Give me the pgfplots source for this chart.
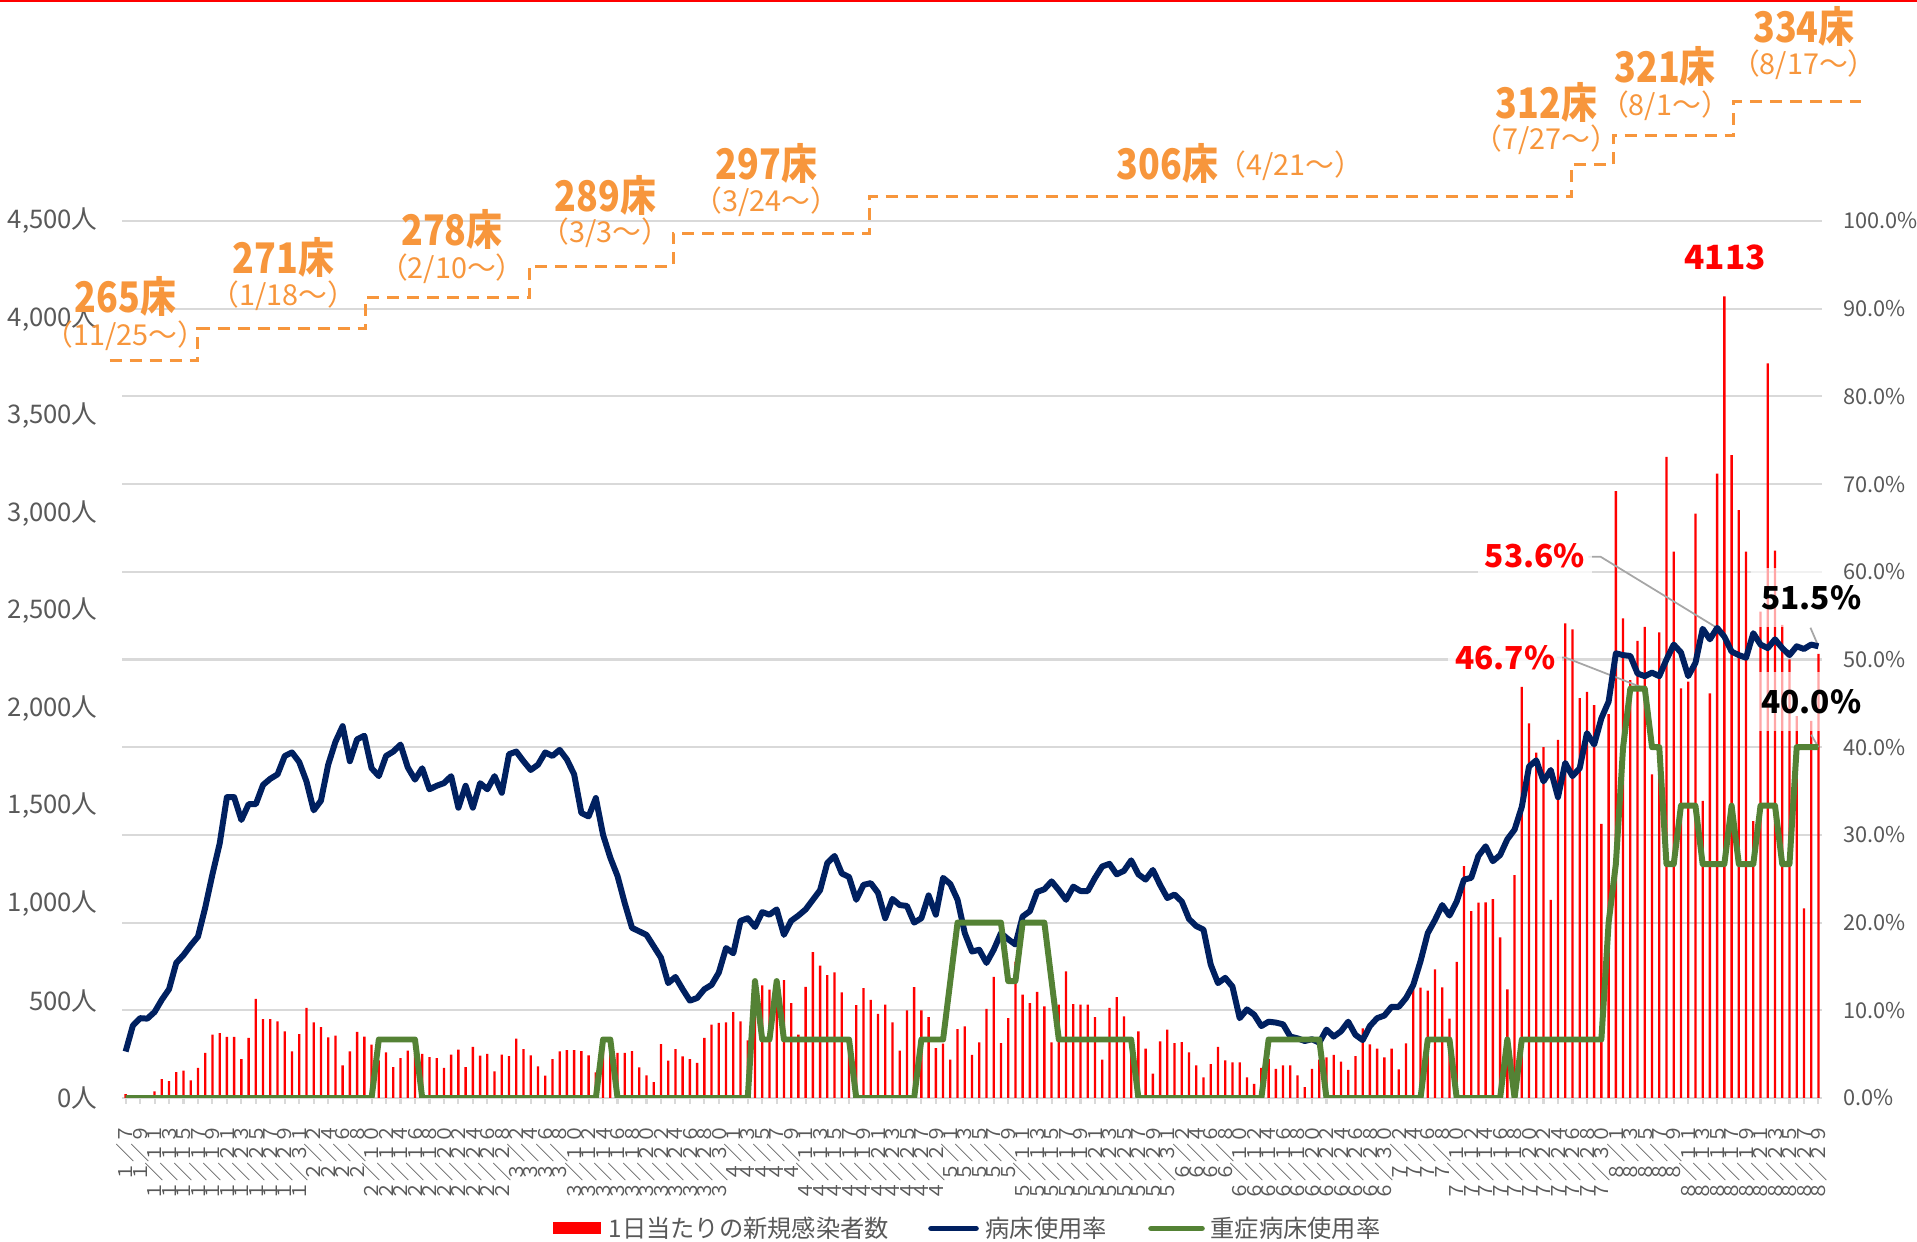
\documentclass[border=0pt]{standalone}
\usepackage{fontspec}
\setmainfont{Noto Sans CJK JP}
\usepackage{graphicx}
\usepackage{pgfplots}
\usepackage{pgfplotstable}
\pgfplotsset{compat=1.18}
\definecolor{navy}{RGB}{0,32,96}
\definecolor{sevgreen}{RGB}{84,130,53}
\definecolor{bedorange}{RGB}{247,150,60}
\definecolor{gridgray}{RGB}{217,217,217}
\definecolor{tgray}{RGB}{89,89,89}
\definecolor{leadgray}{RGB}{166,166,166}

\pgfplotstableread{
d c b s
0 20 5.3 0
1 8 8.25 0
2 10 9.1 0
3 12 9.05 0
4 34 9.8 0
5 97 11.2 0
6 86 12.4 0
7 133 15.4 0
8 140 16.3 0
9 91 17.4 0
10 154 18.4 0
11 231 21.7 0
12 325 25.5 0
13 333 29.0 0
14 313 34.3 0
15 313 34.3 0
16 200 31.7 0
17 308 33.5 0
18 508 33.5 0
19 405 35.7 0
20 405 36.4 0
21 393 36.9 0
22 342 39.0 0
23 239 39.4 0
24 328 38.3 0
25 462 36.1 0
26 388 32.8 0
27 364 33.9 0
28 311 38.0 0
29 320 40.6 0
30 168 42.4 0
31 239 38.4 0
32 339 40.9 0
33 315 41.3 0
34 274 37.6 0
35 193 36.7 6.67
36 234 39.0 6.67
37 159 39.5 6.67
38 205 40.3 6.67
39 243 37.7 6.67
40 230 36.3 6.67
41 226 37.6 0
42 210 35.2 0
43 205 35.6 0
44 154 35.9 0
45 222 36.7 0
46 248 33.1 0
47 159 35.6 0
48 262 33.1 0
49 217 35.9 0
50 227 35.2 0
51 137 36.7 0
52 222 34.8 0
53 215 39.2 0
54 304 39.5 0
55 251 38.4 0
56 219 37.4 0
57 162 38.0 0
58 115 39.4 0
59 200 39.0 0
60 239 39.7 0
61 245 38.6 0
62 246 36.9 0
63 241 32.5 0
64 219 32.1 0
65 132 34.2 0
66 250 30.0 6.67
67 274 27.4 6.67
68 231 25.3 0
69 231 22.2 0
70 241 19.4 0
71 157 19.0 0
72 116 18.6 0
73 82 17.3 0
74 277 16.0 0
75 192 13.1 0
76 251 13.8 0
77 214 12.4 0
78 200 11.1 0
79 180 11.4 0
80 308 12.4 0
81 376 12.9 0
82 385 14.3 0
83 388 17.1 0
84 441 16.5 0
85 393 20.2 0
86 296 20.5 0
87 430 19.5 13.33
88 578 21.2 6.67
89 556 20.9 6.67
90 520 21.5 13.33
91 605 18.6 6.67
92 487 20.2 6.67
93 325 20.8 6.67
94 570 21.5 6.67
95 749 22.6 6.67
96 679 23.7 6.67
97 631 26.8 6.67
98 645 27.6 6.67
99 542 25.6 6.67
100 300 25.2 6.67
101 477 22.6 0
102 564 24.3 0
103 504 24.5 0
104 431 23.4 0
105 479 20.5 0
106 388 22.7 0
107 243 22.0 0
108 450 21.9 0
109 569 20.0 0
110 450 20.5 6.67
111 415 23.1 6.67
112 256 20.9 6.67
113 279 25.1 6.67
114 197 24.4 13.33
115 354 22.6 20
116 368 18.8 20
117 221 16.7 20
118 286 16.9 20
119 457 15.4 20
120 621 16.9 20
121 282 18.8 20
122 410 18.1 13.33
123 700 17.5 13.33
124 530 20.7 20
125 487 21.3 20
126 544 23.5 20
127 470 23.8 20
128 286 24.7 13.33
129 479 23.7 6.67
130 650 22.6 6.67
131 482 24.1 6.67
132 479 23.6 6.67
133 479 23.6 6.67
134 415 25.1 6.67
135 197 26.4 6.67
136 462 26.7 6.67
137 518 25.5 6.67
138 419 25.9 6.67
139 308 27.1 6.67
140 342 25.5 0
141 253 24.9 0
142 125 26.0 0
143 291 24.3 0
144 351 22.8 0
145 282 23.2 0
146 287 22.4 0
147 234 20.4 0
148 168 19.6 0
149 106 19.2 0
150 174 15.2 0
151 262 13.1 0
152 193 13.7 0
153 183 12.7 0
154 183 9.1 0
155 106 10.1 0
156 72 9.5 0
157 154 8.2 0
158 200 8.7 6.67
159 149 8.6 6.67
160 168 8.4 6.67
161 168 7.0 6.67
162 116 6.8 6.67
163 56 6.5 6.67
164 150 6.7 6.67
165 197 6.3 6.67
166 209 7.8 0
167 221 7.0 0
168 186 7.6 0
169 144 8.7 0
170 215 7.2 0
171 357 6.6 0
172 275 8.2 0
173 253 9.1 0
174 209 9.4 0
175 253 10.4 0
176 147 10.4 0
177 280 11.4 0
178 566 12.9 0
179 566 15.6 0
180 551 18.8 6.67
181 660 20.3 6.67
182 568 22.0 6.67
183 407 20.8 6.67
184 699 22.4 0
185 1190 24.9 0
186 959 25.1 0
187 1002 27.6 0
188 1004 28.7 0
189 1021 27.0 0
190 824 27.7 0
191 557 29.5 6.67
192 1144 30.6 0
193 2110 33.2 6.67
194 1922 37.8 6.67
195 1772 38.5 6.67
196 1800 36.1 6.67
197 1017 37.4 6.67
198 1837 34.3 6.67
199 2435 38.2 6.67
200 2404 36.7 6.67
201 2052 37.6 6.67
202 2084 41.6 6.67
203 2016 40.3 6.67
204 1406 43.3 6.67
205 1970 45.2 20
206 3114 50.7 26.67
207 2461 50.5 40
208 2144 50.4 46.67
209 2346 48.4 46.67
210 2418 48.1 46.67
211 1660 48.5 40
212 2389 48.1 40
213 3290 50.0 26.67
214 2803 51.7 26.67
215 2102 50.8 33.33
216 2136 48.1 33.33
217 2999 49.6 33.33
218 1524 53.5 26.67
219 2076 52.3 26.67
220 3204 53.6 26.67
221 4113 52.6 26.67
222 3299 50.9 33.33
223 3016 50.5 26.67
224 2803 50.2 26.67
225 1420 53.0 26.67
226 2495 51.7 33.33
227 3769 51.3 33.33
228 2808 52.3 33.33
229 2427 51.3 26.67
230 2250 50.5 26.67
231 1960 51.5 40
232 973 51.2 40
233 1935 51.7 40
234 2279 51.5 40
}\data

\newcommand\bn[1]{\scalebox{0.85}[1]{#1}}

\begin{document}
\begin{tikzpicture}[
  bedn/.style={text=bedorange, font=\bfseries\fontsize{12}{12}\selectfont, inner sep=0pt},
  bedd/.style={text=bedorange, font=\fontsize{8.2}{8.2}\selectfont, inner sep=0pt},
  redlab/.style={text=red, font=\bfseries\fontsize{9}{9}\selectfont, fill=white, fill opacity=0.8, text opacity=1, inner xsep=2pt, inner ysep=3pt},
  blklab/.style={text=black, font=\bfseries\fontsize{9}{9}\selectfont, fill=white, fill opacity=0.65, text opacity=1, inner xsep=3pt, inner ysep=5pt},
  leader/.style={draw=leadgray, line width=0.5pt},
  legt/.style={anchor=west, text=tgray, font=\fontsize{6.9}{7}\selectfont, inner sep=0pt}
]
\useasboundingbox (0,0) rectangle (191.7mm,124.2mm);
\begin{axis}[
  at={(12.2mm,14.4mm)}, anchor=south west,
  scale only axis, width=170mm, height=87.7mm,
  xmin=-0.5, xmax=234.5, ymin=0, ymax=4500,
  clip=false,
  axis x line*=bottom, axis y line*=left,
  x axis line style={-, draw=gridgray, line width=0.6pt},
  y axis line style={draw=none},
  scaled y ticks=false,
  ytick={0,500,...,4500},
  yticklabel={\pgfmathprintnumber{\tick}人},
  /pgf/number format/1000 sep={,},
  /pgf/number format/assume math mode=true,
  yticklabel style={font=\fontsize{7.3}{8}\selectfont, text=tgray, xshift=-0.6mm},
  ytick style={draw=none},
  extra y ticks={450,900,...,4500},
  extra y tick labels={},
  extra y tick style={grid=major, tick style={draw=none}},
  major grid style={draw=gridgray, line width=0.6pt},
  xtick={0,2,...,234},
  xticklabels={１／７,１／９,１／１１,１／１３,１／１５,１／１７,１／１９,１／２１,１／２３,１／２５,１／２７,１／２９,１／３１,２／２,２／４,２／６,２／８,２／１０,２／１２,２／１４,２／１６,２／１８,２／２０,２／２２,２／２４,２／２６,２／２８,３／２,３／４,３／６,３／８,３／１０,３／１２,３／１４,３／１６,３／１８,３／２０,３／２２,３／２４,３／２６,３／２８,３／３０,４／１,４／３,４／５,４／７,４／９,４／１１,４／１３,４／１５,４／１７,４／１９,４／２１,４／２３,４／２５,４／２７,４／２９,５／１,５／３,５／５,５／７,５／９,５／１１,５／１３,５／１５,５／１７,５／１９,５／２１,５／２３,５／２５,５／２７,５／２９,５／３１,６／２,６／４,６／６,６／８,６／１０,６／１２,６／１４,６／１６,６／１８,６／２０,６／２２,６／２４,６／２６,６／２８,６／３０,７／２,７／４,７／６,７／８,７／１０,７／１２,７／１４,７／１６,７／１８,７／２０,７／２２,７／２４,７／２６,７／２８,７／３０,８／１,８／３,８／５,８／７,８／９,８／１１,８／１３,８／１５,８／１７,８／１９,８／２１,８／２３,８／２５,８／２７,８／２９},
  x tick label style={rotate=90, anchor=east, font=\fontsize{5.4}{6}\selectfont, text=tgray, inner sep=0pt},
  xticklabel shift=2.0mm,
  xtick style={draw=gridgray, line width=0.6pt},
  tick align=outside, major tick length=0.6mm,
]
\addplot[ybar, bar width=0.32, fill=red, draw=none] table[x=d,y=c]{\data};

% bed-count steps
\draw[bedorange, line width=0.3mm, dash pattern=on 1.2mm off 0.8mm]
  (-2.2,3784) -| (10.0,3948) -| (33.1,4105) -| (55.8,4268) -| (75.7,4437)
  -| (102.8,4626) -| (199.8,4789) -| (205.7,4939) -| (222.3,5115) -- (239.9,5115);
\node[bedn] at (0,4112) {\bn{265床}};
\node[bedd] at (0,3911) {（11/25～）};
\node[bedn] at (21.8,4313) {\bn{271床}};
\node[bedd] at (21.8,4118) {（1/18～）};
\node[bedn] at (45.1,4457) {\bn{278床}};
\node[bedd] at (45.1,4256) {（2/10～）};
\node[bedn] at (66.3,4633) {\bn{289床}};
\node[bedd] at (66.3,4438) {（3/3～）};
\node[bedn] at (88.6,4796) {\bn{297床}};
\node[bedd] at (88.6,4601) {（3/24～）};
\node[bedn] at (144.0,4796) {\bn{306床}};
\node[bedd] at (161.0,4783) {（4/21～）};
\node[bedn] at (196.4,5110) {\bn{312床}};
\node[bedd] at (196.4,4915) {（7/27～）};
\node[bedn] at (212.8,5292) {\bn{321床}};
\node[bedd] at (212.8,5091) {（8/1～）};
\node[bedn] at (232.0,5499) {\bn{334床}};
\node[bedd] at (232.0,5304) {（8/17～）};

% value labels
\node[text=red, font=\bfseries\fontsize{9.5}{9.5}\selectfont] at (221.1,4313) {4113};
\draw[leader] (202.2,2777) -- (203.9,2777) -- (220,2412);
\node[redlab] at (194.8,2781) {53.6\%};
\draw[leader] (197.8,2260) -- (199.0,2260) -- (210,2101);
\node[redlab] at (190.7,2260) {46.7\%};
\node[blklab] at (233.0,2567) {51.5\%};
\draw[leader] (232.9,2413) -- (234,2318);
\node[blklab] at (233.0,2034) {40.0\%};
\draw[leader] (233,1864) -- (234,1800);
\end{axis}

\begin{axis}[
  at={(12.2mm,14.4mm)}, anchor=south west,
  scale only axis, width=170mm, height=87.7mm,
  xmin=-0.5, xmax=234.5, ymin=0, ymax=100,
  axis x line=none, axis y line*=right,
  y axis line style={draw=none}, ytick style={draw=none},
  xtick=\empty,
  ytick={0,10,...,100},
  yticklabel={\pgfmathprintnumber[fixed,fixed zerofill,precision=1]{\tick}\%},
  /pgf/number format/assume math mode=true,
  yticklabel style={font=\fontsize{6.2}{7}\selectfont, text=tgray, anchor=west, xshift=0.9mm},
]
\addplot[navy, line width=1.7pt, line join=round] table[x=d,y=b]{\data};
\addplot[sevgreen, line width=1.7pt, line join=round] table[x=d,y=s]{\data};
\end{axis}

% legend
\fill[red] (55.3mm,0.75mm) rectangle (60.1mm,1.95mm);
\node[legt] at (60.8mm,1.35mm) {1日当たりの新規感染者数};
\draw[navy, line width=1.6pt, line cap=round] (93.1mm,1.35mm) -- (97.6mm,1.35mm);
\node[legt] at (98.5mm,1.35mm) {病床使用率};
\draw[sevgreen, line width=1.6pt, line cap=round] (115.1mm,1.35mm) -- (120.2mm,1.35mm);
\node[legt] at (121.0mm,1.35mm) {重症病床使用率};

\draw[red, line width=0.5mm] (0,124.2mm) -- (191.7mm,124.2mm);
\end{tikzpicture}
\end{document}
